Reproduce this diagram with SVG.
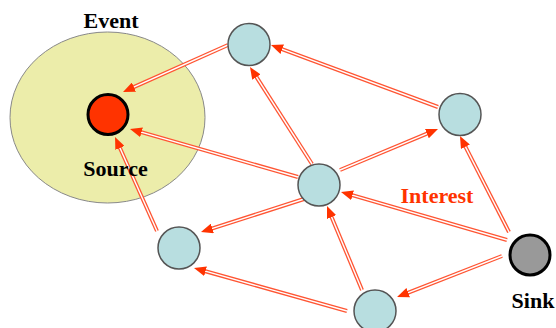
<svg xmlns="http://www.w3.org/2000/svg" width="556" height="328" viewBox="0 0 556 328">
<style>
.o{fill:none;stroke:#FF5533;stroke-width:4}
.w{fill:none;stroke:#FFFFFF;stroke-width:1.4;marker-end:url(#ah)}
.n{fill:#B8DEE0;stroke:#555;stroke-width:1.5}
.lbl{font-family:"Liberation Serif",serif;font-weight:bold;font-size:22px;text-anchor:middle;fill:#000}
</style>
<defs>
<marker id="ah" markerUnits="userSpaceOnUse" markerWidth="12" markerHeight="10" refX="4" refY="5" orient="auto">
<path d="M0,0 L12,5 L0,10 z" fill="#FF3300"/>
</marker>
</defs>
<rect width="556" height="328" fill="#fff"/>
<g id="event">
<ellipse cx="107.5" cy="117.5" rx="97.5" ry="85.5" fill="#ECEDAA" stroke="#888" stroke-width="1"/>
<text class="lbl" x="111" y="28">Event</text>
</g>
<g id="connectors">
<g><path class="o" d="M228,45 L130.3,88.7"/><path class="w" d="M228,45 L130.3,88.7"/></g>
<g><path class="o" d="M438,107 L278.5,47.8"/><path class="w" d="M438,107 L278.5,47.8"/></g>
<g><path class="o" d="M312,164 L254.3,73.7"/><path class="w" d="M312,164 L254.3,73.7"/></g>
<g><path class="o" d="M298,177 L137.7,131.2"/><path class="w" d="M298,177 L137.7,131.2"/></g>
<g><path class="o" d="M340,170 L430.6,132.1"/><path class="w" d="M340,170 L430.6,132.1"/></g>
<g><path class="o" d="M304,199 L208.6,229.6"/><path class="w" d="M304,199 L208.6,229.6"/></g>
<g><path class="o" d="M157,231 L118.3,144.3"/><path class="w" d="M157,231 L118.3,144.3"/></g>
<g><path class="o" d="M507,240 L348.7,194.2"/><path class="w" d="M507,240 L348.7,194.2"/></g>
<g><path class="o" d="M509,232 L463.6,143.1"/><path class="w" d="M509,232 L463.6,143.1"/></g>
<g><path class="o" d="M502,256 L404.5,294.1"/><path class="w" d="M502,256 L404.5,294.1"/></g>
<g><path class="o" d="M362,290 L330.1,213.4"/><path class="w" d="M362,290 L330.1,213.4"/></g>
<g><path class="o" d="M347,311 L201.7,270.2"/><path class="w" d="M347,311 L201.7,270.2"/></g>
<text x="437" y="203" font-family="Liberation Serif, serif" font-weight="bold" font-size="22" text-anchor="middle" fill="#FF3300">Interest</text>
</g>
<g id="source">
<circle cx="108" cy="114.5" r="20" fill="#FF3300" stroke="#000" stroke-width="3"/>
<text class="lbl" x="115.5" y="175.5">Source</text>
</g>
<g id="n-top"><circle class="n" cx="249" cy="44.5" r="21"/></g>
<g id="n-right"><circle class="n" cx="460" cy="114.5" r="21"/></g>
<g id="n-center"><circle class="n" cx="319" cy="185" r="21"/></g>
<g id="n-left"><circle class="n" cx="179" cy="248" r="21"/></g>
<g id="n-bottom"><circle class="n" cx="375" cy="311" r="21"/></g>
<g id="sink">
<circle cx="530" cy="255" r="20" fill="#999999" stroke="#000" stroke-width="3"/>
<text class="lbl" x="533" y="308">Sink</text>
</g>
</svg>
